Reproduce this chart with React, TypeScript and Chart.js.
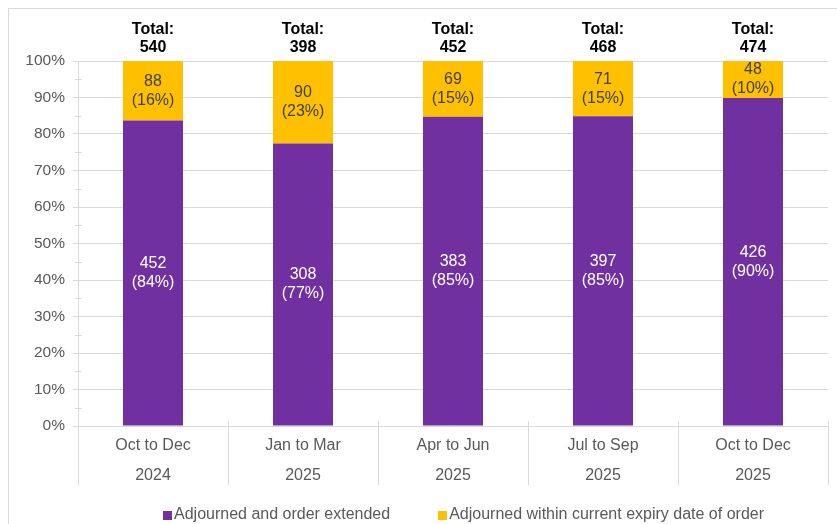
import React, { useEffect, useRef } from "react";
import { Chart, registerables } from "chart.js";

Chart.register(...registerables);

const periods = ["Oct to Dec", "Jan to Mar", "Apr to Jun", "Jul to Sep", "Oct to Dec"];
const years = ["2024", "2025", "2025", "2025", "2025"];
const extendedCounts = [452, 308, 383, 397, 426];
const withinExpiryCounts = [88, 90, 69, 71, 48];
const totalCounts = [540, 398, 452, 468, 474];
const seriesNames = ["Adjourned and order extended", "Adjourned within current expiry date of order"];
const seriesColors = ["#7030A0", "#FFC000"];
const labelColors = ["#FFFFFF", "#404040"];

const FONT = "'Liberation Sans', Arial, sans-serif";
const GRID = "#D9D9D9";

const share = (arr: number[]) => arr.map((v, i) => (v / totalCounts[i]) * 100);

const decorPlugin = {
  id: "decor",
  afterDatasetsDraw(chart: any) {
    const ctx = chart.ctx;
    const counts = [extendedCounts, withinExpiryCounts];
    ctx.save();
    ctx.textAlign = "center";
    ctx.textBaseline = "middle";
    chart.data.datasets.forEach((ds: any, di: number) => {
      const meta = chart.getDatasetMeta(di);
      meta.data.forEach((el: any, i: number) => {
        const cy = (el.y + el.base) / 2;
        const pct = Math.round(ds.data[i]);
        ctx.fillStyle = labelColors[di];
        ctx.font = `16px ${FONT}`;
        ctx.fillText(String(counts[di][i]), el.x, cy - 9.5);
        ctx.fillText(`(${pct}%)`, el.x, cy + 9.5);
      });
    });
    // totals above bars
    const meta0 = chart.getDatasetMeta(0);
    ctx.fillStyle = "#000000";
    ctx.font = `bold 16px ${FONT}`;
    meta0.data.forEach((el: any, i: number) => {
      ctx.fillText("Total:", el.x, 21);
      ctx.fillText(String(totalCounts[i]), el.x, 38.5);
    });
    ctx.restore();
  },
  afterDraw(chart: any) {
    const ctx = chart.ctx;
    const { left, right, bottom } = chart.chartArea;
    const n = chart.data.labels.length;
    const step = (right - left) / n;
    ctx.save();
    ctx.strokeStyle = GRID;
    ctx.lineWidth = 1;
    ctx.beginPath();
    for (let i = 0; i <= n; i++) {
      const x = Math.round(left + i * step) + 0.5;
      ctx.moveTo(x, bottom - 5);
      ctx.lineTo(x, bottom + 59);
    }
    const ys = chart.scales.y;
    for (let v = 5; v < 100; v += 10) {
      const py = Math.round(ys.getPixelForValue(v)) + 0.5;
      ctx.moveTo(left - 3, py);
      ctx.lineTo(left + 4, py);
    }
    ctx.stroke();

    // legend
    ctx.font = `16px ${FONT}`;
    ctx.textBaseline = "middle";
    ctx.textAlign = "left";
    const box = 9;
    const gapBox = 2;
    const gapItem = 48;
    const widths = seriesNames.map((s) => ctx.measureText(s).width);
    const total = widths.reduce((a, w) => a + box + gapBox + w, 0) + gapItem * (seriesNames.length - 1);
    let x = 454.5 - total / 2;
    const ly = 506;
    seriesNames.forEach((name, i) => {
      ctx.fillStyle = seriesColors[i];
      ctx.fillRect(Math.round(x), ly - 4, box, box);
      ctx.fillStyle = "#595959";
      ctx.fillText(name, x + box + gapBox, ly);
      x += box + gapBox + widths[i] + gapItem;
    });
    ctx.restore();
  },
};

export default function App() {
  const ref = useRef<HTMLCanvasElement>(null);

  useEffect(() => {
    if (!ref.current) return;
    const chart = new Chart(ref.current, {
      type: "bar",
      data: {
        labels: periods.map((p, i) => [p, years[i]]),
        datasets: [
          {
            label: seriesNames[0],
            data: share(extendedCounts),
            backgroundColor: seriesColors[0],
            borderWidth: 0,
            barPercentage: 0.4,
            categoryPercentage: 1,
          },
          {
            label: seriesNames[1],
            data: share(withinExpiryCounts),
            backgroundColor: seriesColors[1],
            borderWidth: 0,
            barPercentage: 0.4,
            categoryPercentage: 1,
          },
        ],
      },
      options: {
        responsive: false,
        animation: false,
        devicePixelRatio: 1,
        layout: { padding: { top: 52, right: 9, bottom: 28, left: 0 } },
        plugins: {
          legend: { display: false },
          tooltip: { enabled: false },
        },
        scales: {
          x: {
            stacked: true,
            grid: { display: false, drawTicks: false },
            border: { display: false },
            ticks: {
              color: "#595959",
              font: { family: FONT, size: 16, lineHeight: 1.875 },
              padding: 5,
              maxRotation: 0,
              autoSkip: false,
            },
            afterFit(scale: any) {
              scale.height = 70;
            },
          },
          y: {
            stacked: true,
            min: 0,
            max: 100,
            grid: { color: GRID, tickLength: 5, drawTicks: true },
            border: { display: true, color: GRID },
            ticks: {
              stepSize: 10,
              color: "#595959",
              font: { family: FONT, size: 15.5 },
              padding: 8,
              callback: (v: any) => `${v}%`,
            },
            afterFit(scale: any) {
              scale.width = 69;
            },
          },
        },
      },
      plugins: [decorPlugin],
    });
    return () => chart.destroy();
  }, []);

  return (
    <div
      style={{
        position: "fixed",
        left: 8,
        top: 8,
        width: 840,
        height: 530,
        border: `1px solid ${GRID}`,
        background: "#FFFFFF",
      }}
    >
      <canvas ref={ref} width={828} height={515} style={{ display: "block", width: 828, height: 515 }} />
    </div>
  );
}
